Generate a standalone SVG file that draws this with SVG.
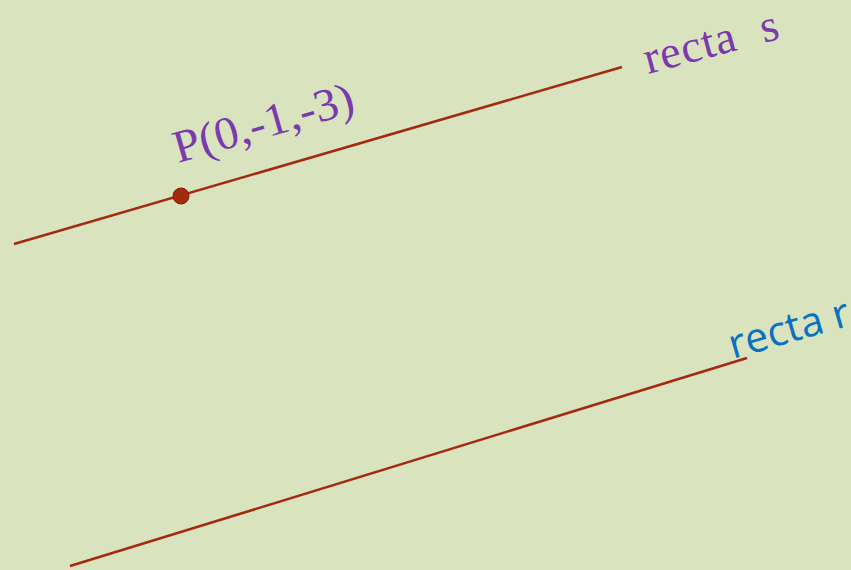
<svg xmlns="http://www.w3.org/2000/svg" width="851" height="570" viewBox="0 0 851 570">
<style>
.ln{stroke:#a3290f;stroke-width:2.5;fill:none}
.lbl{font-family:"Times New Roman","Liberation Serif",serif;fill:#7a3aae;font-size:46px}
.blue{font-family:"Open Sans","Noto Sans",sans-serif;fill:#0a70c0;font-size:41px}
</style>
<rect width="851" height="570" fill="#d9e3be"/>
<g id="connectors">
<line class="ln" x1="14" y1="244" x2="622" y2="67"/>
<line class="ln" x1="70" y1="566" x2="747" y2="358"/>
</g>
<g id="point-P">
<circle cx="181" cy="196" r="8" fill="#a3290f" stroke="#7e1e0a" stroke-width="1"/>
<text class="lbl" transform="translate(178,163) rotate(-16)" textLength="186" lengthAdjust="spacingAndGlyphs">P(0,-1,-3)</text>
</g>
<g id="label-s">
<text class="lbl" transform="translate(648,74) rotate(-15)" xml:space="preserve" textLength="138" lengthAdjust="spacing">recta  s</text>
</g>
<g id="label-r">
<text class="blue" transform="translate(733,359) rotate(-16)">recta r</text>
</g>
</svg>
